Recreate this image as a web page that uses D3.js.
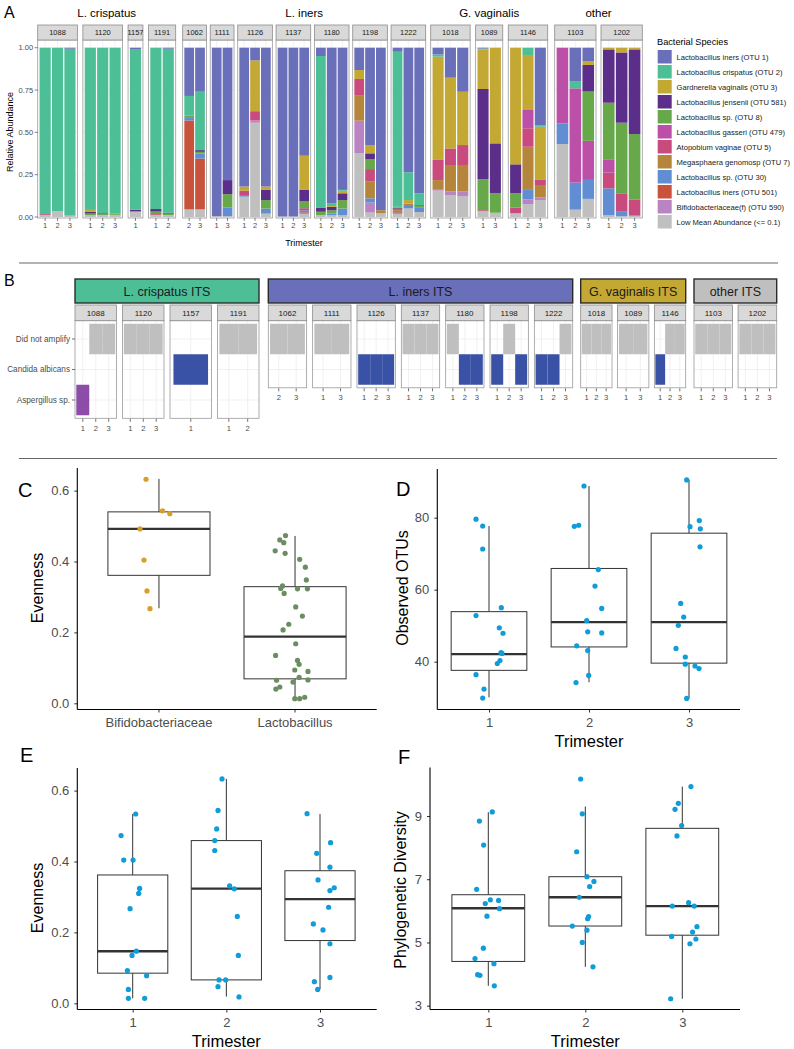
<!DOCTYPE html>
<html><head><meta charset="utf-8">
<script src="https://cdn.jsdelivr.net/npm/d3@7"></script>
<style>
body{margin:0;background:#fff}
svg{display:block}
text{font-family:"Liberation Sans",Arial,Helvetica,sans-serif}
</style>
</head><body>
<svg id="c" width="794" height="1049"></svg>
<script>
// ---------------- DATA ----------------
const speciesNames = ["Lactobacillus iners (OTU 1)","Lactobacillus crispatus (OTU 2)","Gardnerella vaginalis (OTU 3)","Lactobacillus jensenii (OTU 581)","Lactobacillus sp. (OTU 8)","Lactobacillus gasseri (OTU 479)","Atopobium vaginae (OTU 5)","Megasphaera genomosp (OTU 7)","Lactobacillus sp. (OTU 30)","Lactobacillus iners (OTU 501)","Bifidobacteriaceae(f) (OTU 590)","Low Mean Abundance (<= 0.1)"];
const speciesColors = ["#6A6FB9","#4CBF96","#C4A834","#5B2E89","#67A84A","#BC4FA7","#C94B7E","#B4853B","#618ED2","#C8523A","#BA83C3","#BFBFBF"];

const groupNamesA = ["L. crispatus","L. iners","G. vaginalis","other"];
const groupNamesB = ["L. crispatus ITS","L. iners ITS","G. vaginalis ITS","other ITS"];
const groupColorsB = ["#4CBF96","#6A6FB9","#C4A834","#BFBFBF"];
const groupSubjects = [["1088","1120","1157","1191"],["1062","1111","1126","1137","1180","1198","1222"],["1018","1089","1146"],["1103","1202"]];

const sampleIds = ["1088-1","1088-2","1088-3","1120-1","1120-2","1120-3","1157-1","1191-1","1191-2","1062-2","1062-3","1111-1","1111-3","1126-1","1126-2","1126-3","1137-1","1137-2","1137-3","1180-1","1180-2","1180-3","1198-1","1198-2","1198-3","1222-1","1222-2","1222-3","1018-1","1018-2","1018-3","1089-1","1089-3","1146-1","1146-2","1146-3","1103-1","1103-2","1103-3","1202-1","1202-2","1202-3"];

// relative abundance per sample, in legend order of speciesNames
const abundance = [
 [0,.983,0,0,0,0,.005,0,0,0,0,.012],
 [0,.965,0,0,0,0,0,0,0,0,0,.035],
 [.006,.986,0,0,0,0,0,0,0,0,0,.008],
 [0,.958,.01,.012,.01,0,0,0,0,0,0,.01],
 [0,.978,0,.005,.005,0,0,0,0,0,0,.012],
 [0,.977,.006,0,.005,0,0,0,0,0,0,.012],
 [.008,.949,0,.008,.005,0,0,0,0,0,0,.03],
 [0,.953,0,.015,.015,0,.005,0,0,0,0,.012],
 [.006,.969,0,.005,.008,0,0,0,0,0,0,.012],
 [.285,.115,0,0,.01,0,0,0,.02,.525,0,.045],
 [.26,.345,0,.01,.01,0,0,0,.03,.30,0,.045],
 [.995,0,0,0,0,0,0,0,0,0,0,.005],
 [.782,0,0,.083,.078,0,0,0,.052,0,0,.005],
 [.82,0,.025,0,0,0,.025,0,.01,0,0,.12],
 [.075,0,.30,0,0,0,.055,0,0,0,.013,.557],
 [.82,0,.02,.06,.05,0,0,0,.03,0,0,.02],
 [.997,0,0,0,0,0,0,0,0,0,0,.003],
 [.997,0,0,0,0,0,0,0,0,0,0,.003],
 [.638,0,.2,.07,.04,0,.012,0,.012,.008,0,.02],
 [.049,.895,0,.025,.02,0,0,0,0,0,0,.011],
 [.92,.015,.005,.02,.02,0,0,0,.01,0,0,.01],
 [.84,.005,.015,.04,.05,0,0,0,.04,0,0,.01],
 [.132,0,.053,0,0,0,.095,.151,0,0,.193,.376],
 [.575,0,.049,.036,.057,0,.074,.099,.025,0,.059,.026],
 [.96,0,0,0,0,0,0,.018,0,0,0,.022],
 [.024,.916,.008,.008,0,0,0,.008,.008,.008,0,.02],
 [.736,.164,.02,0,0,0,0,.015,.014,0,0,.051],
 [.86,.07,0,.004,.008,0,0,0,.029,0,0,.029],
 [.04,.013,.61,0,0,0,.119,.053,0,0,.009,.156],
 [.177,0,.418,0,0,0,.098,.157,0,0,.02,.13],
 [.26,0,.315,0,0,0,.118,.157,0,0,.026,.124],
 [.005,.005,.234,.532,.184,0,.005,0,0,0,0,.035],
 [0,0,.565,.295,.115,0,0,0,0,0,0,.025],
 [0,0,.689,.171,.085,0,.033,0,0,0,0,.022],
 [0,.043,.325,0,0,.108,.109,.255,.056,0,.029,.075],
 [.46,.007,.311,0,0,0,.033,.073,0,0,.016,.1],
 [0,0,0,0,0,.447,0,0,.122,0,0,.431],
 [.197,.043,0,0,0,.557,0,0,.158,0,.004,.041],
 [.079,0,.023,.157,.291,.231,0,0,.112,0,0,.107],
 [0,0,.01,.315,.334,.079,.093,0,.159,0,0,.01],
 [0,0,.028,.415,.417,0,.109,0,.026,0,0,.005],
 [0,0,.01,.5,.386,0,.094,0,.005,0,0,.005]
];
const yTicksA = [0,0.25,0.5,0.75,1];

// ITS results (panel B)
const itsCategories = ["Did not amplify","Candida albicans","Aspergillus sp."];
const itsColors = ["#BFBFBF","#3A52A5","#8C4CA8"];
const itsResult = ["A","D","D","D","D","D","C","D","D","D","D","D","D","C","C","C","D","D","D","D","C","C","C","D","C","C","C","D","D","D","D","D","D","C","D","D","D","D","D","D","D","D"];

// Panel C
const genusCats = ["Bifidobacteriaceae","Lactobacillus"];
const genusBox = [[.268,.361,.492,.54,.633],[.013,.069,.188,.329,.472]];
const bifidoEven = [.632,.543,.535,.492,.404,.317,.267];
const bifidoJit = [-.095,.026,.08,-.139,-.11,-.088,-.066];
const lactoEven = [.473,.461,.453,.430,.423,.406,.384,.348,.331,.324,.323,.323,.310,.272,.246,.223,.207,.168,.135,.121,.110,.094,.090,.073,.066,.060,.065,.046,.040,.013,.013,.017];
const lactoJit = [-.07,-.112,-.083,-.146,-.073,.034,.076,.083,-.092,-.105,.018,.091,-.08,.005,.054,-.046,-.088,.005,-.143,.018,.03,-.002,.095,.03,.095,-.015,-.136,-.112,-.141,-.002,.034,.071];

// Panel D: observed OTUs by trimester
const trimesters = [1,2,3];
const otuBox = [[30.1,37.6,42.1,53.9,77.7],[34.3,44.1,51.0,65.9,88.8],[29.8,39.6,51.0,75.7,90.5]];
const otuT1 = [79.6,77.7,71.3,55.0,52.8,49.4,47.9,42.5,42.3,40.3,39.5,36.4,32.4,29.9];
const otuT2 = [88.8,77.6,77.9,65.6,61.0,54.8,51.4,48.3,48.0,44.4,43.1,36.2,34.2];
const otuT3 = [90.5,79.2,77.5,76.9,71.9,56.2,52.4,50.1,43.7,41.3,39.3,38.8,38.1,29.8];
const otuJ1 = [-.13,-.063,-.063,.123,-.13,.103,.14,.12,.13,.11,.083,-.13,-.05,-.063];
const otuJ2 = [-.05,-.147,-.103,.093,.06,.127,-.023,-.013,.127,-.123,-.013,-.003,-.13];
const otuJ3 = [-.023,.103,.01,.113,.11,-.083,-.053,-.107,-.13,-.037,-.037,.06,.1,-.023];

// Panel E: evenness by trimester
const evenBox = [[.014,.085,.147,.362,.534],[.019,.066,.3235,.459,.633],[.04,.177,.294,.374,.534]];
const evenT1 = [.534,.473,.404,.404,.324,.310,.267,.147,.135,.092,.078,.039,.014,.014];
const evenT2 = [.633,.544,.492,.459,.431,.331,.323,.245,.135,.066,.066,.047,.018];
const evenT3 = [.535,.453,.423,.384,.348,.326,.318,.271,.224,.207,.168,.061,.073,.039];
const evenJ1 = [.032,-.124,-.096,.004,.074,.064,-.028,.039,-.007,-.057,.149,-.046,-.046,.128];
const evenJ2 = [-.046,-.089,-.103,-.124,-.124,.035,.085,.117,.128,-.078,-.007,-.089,.135];
const evenJ3 = [-.138,.113,-.035,.106,-.021,.152,.106,.092,-.071,.032,.106,-.06,.106,-.025];

// Panel F: phylogenetic diversity by trimester
const pdBox = [[3.63,4.40,6.08,6.51,9.12],[4.23,5.52,6.43,7.08,9.3],[3.22,5.23,6.15,8.61,9.93]];
const pdT1 = [9.13,8.84,8.08,6.68,6.35,6.33,6.23,6.07,5.83,4.82,4.49,4.33,3.98,3.96,3.63];
const pdT2 = [10.17,9.07,7.87,7.08,6.93,6.77,6.43,5.82,5.75,5.52,5.39,5.0,4.23];
const pdT3 = [9.93,9.40,9.21,8.70,8.37,6.26,6.15,6.15,5.50,5.33,5.19,5.11,4.96,3.22];
const pdJ1 = [.041,-.092,-.048,-.12,.021,.106,-.031,.116,-.014,-.051,-.137,.058,-.11,-.086,.062];
const pdJ2 = [-.048,-.031,-.089,.017,.089,.045,-.062,.034,.024,-.134,.017,-.031,.079];
const pdJ3 = [.089,-.041,-.075,-.007,-.055,.065,-.103,.123,.151,.106,-.11,.14,.079,-.12];

// ---------------- DRAWING ----------------
const svg = d3.select("#c");
const FONT = '"Liberation Sans",Arial,Helvetica,sans-serif';
const samples = sampleIds.map((id,i)=>{const [s,t]=id.split("-");return {id,subject:s,tri:t,vals:abundance[i],its:itsResult[i]};});
const levels = {};
samples.forEach(d=>{(levels[d.subject] ||= []).push(d.tri);});

// ===== Panel A =====
const gA = svg.append("g");
gA.append("text").attr("x",4).attr("y",18).attr("font-size",16).text("A");
const A_TOP=40, A_BOT=218;
const yA = d3.scaleLinear().domain([0,1]).range([217,47.7]);
const stack = d3.stack().keys(d3.range(11,-1,-1)).value((d,k)=>d.vals[k]).offset(d3.stackOffsetExpand);
const series = stack(samples);
const segs = [];
series.forEach(s=>s.forEach((p,i)=>{ if(p[1]-p[0]>0) segs.push({k:s.key,y0:p[0],y1:p[1],sample:samples[i]}); }));

const aSpans = [[37.7,175.7,5.5],[182.7,425.7,3.7],[430.7,547.7,5.5],[554.7,642.3,5]];
const defs = svg.append("defs");
let clipId = 0;
const panelX = {};
groupSubjects.forEach((subs,gi)=>{
  const [x0,x1,gap]=aSpans[gi];
  const units = subs.map(s=>levels[s].length+0.2);
  const u = (x1-x0-gap*(subs.length-1))/d3.sum(units);
  let x=x0;
  subs.forEach((s,i)=>{ panelX[s]={x,w:units[i]*u}; x+=units[i]*u+gap; });
  gA.append("text").attr("x",(x0+x1)/2).attr("y",16.5).attr("text-anchor","middle").attr("font-size",11.5).text(groupNamesA[gi]);
});
Object.keys(panelX).forEach(s=>{
  const {x,w}=panelX[s];
  const xb = d3.scaleBand().domain(levels[s]).range([x,x+w]).paddingInner(0.1).paddingOuter(0.15);
  const g = gA.append("g");
  g.append("rect").attr("x",x).attr("y",A_TOP).attr("width",w).attr("height",A_BOT-A_TOP).attr("fill","#fff");
  yTicksA.forEach(t=>g.append("line").attr("x1",x).attr("x2",x+w).attr("y1",yA(t)).attr("y2",yA(t)).attr("stroke","#EBEBEB").attr("stroke-width",0.6));
  levels[s].forEach(l=>g.append("line").attr("x1",xb(l)+xb.bandwidth()/2).attr("x2",xb(l)+xb.bandwidth()/2).attr("y1",A_TOP).attr("y2",A_BOT).attr("stroke","#EBEBEB").attr("stroke-width",0.6));
  g.selectAll("rect.seg").data(segs.filter(d=>d.sample.subject===s)).join("rect").attr("class","seg")
    .attr("x",d=>xb(d.sample.tri)).attr("width",xb.bandwidth())
    .attr("y",d=>yA(d.y1)).attr("height",d=>yA(d.y0)-yA(d.y1)).attr("fill",d=>speciesColors[d.k]);
  g.append("rect").attr("x",x).attr("y",A_TOP).attr("width",w).attr("height",A_BOT-A_TOP).attr("fill","none").attr("stroke","#9A9A9A").attr("stroke-width",0.8);
  // strip
  const cid="cl"+(clipId++);
  defs.append("clipPath").attr("id",cid).append("rect").attr("x",x).attr("y",25).attr("width",w).attr("height",15);
  g.append("rect").attr("x",x).attr("y",25).attr("width",w).attr("height",15).attr("fill","#D9D9D9").attr("stroke","#8C8C8C").attr("stroke-width",0.8);
  g.append("text").attr("clip-path",`url(#${cid})`).attr("x",x+w/2).attr("y",35.3).attr("text-anchor","middle").attr("font-size",7.5).attr("fill","#1A1A1A").text(s);
  // x axis
  levels[s].forEach(l=>{
    const cx=xb(l)+xb.bandwidth()/2;
    g.append("line").attr("x1",cx).attr("x2",cx).attr("y1",A_BOT).attr("y2",A_BOT+3).attr("stroke","#333").attr("stroke-width",0.6);
    g.append("text").attr("x",cx).attr("y",A_BOT+10).attr("text-anchor","middle").attr("font-size",7.5).attr("fill","#4D4D4D").text(l);
  });
});
// y axis A
const ax0 = panelX["1088"].x;
yTicksA.forEach(t=>{
  gA.append("line").attr("x1",ax0-3).attr("x2",ax0).attr("y1",yA(t)).attr("y2",yA(t)).attr("stroke","#333").attr("stroke-width",0.6);
  gA.append("text").attr("x",ax0-4.5).attr("y",yA(t)+2.7).attr("text-anchor","end").attr("font-size",7.5).attr("fill","#4D4D4D").text(d3.format(".2f")(t));
});
gA.append("text").attr("transform",`translate(12.5,132) rotate(-90)`).attr("text-anchor","middle").attr("font-size",9).text("Relative Abundance");
gA.append("text").attr("x",304).attr("y",246).attr("text-anchor","middle").attr("font-size",9).text("Trimester");
// legend
const lg = gA.append("g");
lg.append("text").attr("x",657).attr("y",44.5).attr("font-size",9.2).text("Bacterial Species");
speciesNames.forEach((n,i)=>{
  lg.append("rect").attr("x",657.7).attr("y",50+i*15).attr("width",14).attr("height",13.5).attr("fill",speciesColors[i]);
  lg.append("text").attr("x",676.5).attr("y",50+i*15+9.6).attr("font-size",7.6).attr("fill","#1A1A1A").text(n);
});
// separator lines
svg.append("line").attr("x1",19).attr("x2",778).attr("y1",263).attr("y2",263).attr("stroke","#9A9A9A").attr("stroke-width",1.6);
svg.append("line").attr("x1",19).attr("x2",777).attr("y1",458.5).attr("y2",458.5).attr("stroke","#666").attr("stroke-width",1);

// ===== Panel B =====
const gB = svg.append("g");
gB.append("text").attr("x",4).attr("y",286).attr("font-size",16).text("B");
const bSpans = [[75,259,6],[268.3,572.7,6],[580.7,685.7,5.5],[694,776.7,5.5]];
const B_TOP = 320.7, B_UNIT = 30.5;
groupSubjects.forEach((subs,gi)=>{
  const [x0,x1,gap]=bSpans[gi];
  const pw = (x1-x0-gap*(subs.length-1))/subs.length;
  const cats = gi===0 ? itsCategories : itsCategories.slice(0,2);
  const bottom = B_TOP + (cats.length+0.2)*B_UNIT;
  const yb = d3.scaleBand().domain(cats).range([B_TOP,bottom]).paddingInner(0).paddingOuter(0.1);
  gB.append("rect").attr("x",x0).attr("y",279).attr("width",x1-x0).attr("height",24).attr("fill",groupColorsB[gi]).attr("stroke","#2b2b2b").attr("stroke-width",1.4);
  gB.append("text").attr("x",(x0+x1)/2).attr("y",296).attr("text-anchor","middle").attr("font-size",12.5).attr("fill","#1A1A1A").text(groupNamesB[gi]);
  subs.forEach((s,i)=>{
    const x = x0 + i*(pw+gap);
    const xb = d3.scaleBand().domain(levels[s]).range([x,x+pw]).paddingInner(0).paddingOuter(0.1);
    const g = gB.append("g");
    g.append("rect").attr("x",x).attr("y",B_TOP).attr("width",pw).attr("height",bottom-B_TOP).attr("fill","#fff");
    cats.forEach(c=>g.append("line").attr("x1",x).attr("x2",x+pw).attr("y1",yb(c)+yb.bandwidth()/2).attr("y2",yb(c)+yb.bandwidth()/2).attr("stroke","#EBEBEB").attr("stroke-width",0.7));
    levels[s].forEach(l=>g.append("line").attr("x1",xb(l)+xb.bandwidth()/2).attr("x2",xb(l)+xb.bandwidth()/2).attr("y1",B_TOP).attr("y2",bottom).attr("stroke","#EBEBEB").attr("stroke-width",0.7));
    const data = samples.filter(d=>d.subject===s);
    g.selectAll("rect.t").data(data).join("rect").attr("class","t")
      .attr("x",d=>xb(d.tri)).attr("width",xb.bandwidth())
      .attr("y",d=>yb(itsCategories["DCA".indexOf(d.its)])).attr("height",yb.bandwidth())
      .attr("fill",d=>itsColors["DCA".indexOf(d.its)]);
    g.append("rect").attr("x",x).attr("y",B_TOP).attr("width",pw).attr("height",bottom-B_TOP).attr("fill","none").attr("stroke","#9A9A9A").attr("stroke-width",0.8);
    g.append("rect").attr("x",x).attr("y",305).attr("width",pw).attr("height",15.7).attr("fill","#D9D9D9").attr("stroke","#8C8C8C").attr("stroke-width",0.8);
    g.append("text").attr("x",x+pw/2).attr("y",316).attr("text-anchor","middle").attr("font-size",8).attr("fill","#1A1A1A").text(s);
    levels[s].forEach(l=>{
      const cx=xb(l)+xb.bandwidth()/2;
      g.append("line").attr("x1",cx).attr("x2",cx).attr("y1",bottom+0.5).attr("y2",bottom+3.5).attr("stroke","#333").attr("stroke-width",0.7);
      g.append("text").attr("x",cx).attr("y",bottom+12.5).attr("text-anchor","middle").attr("font-size",7.6).attr("fill","#4D4D4D").text(l);
    });
    if(gi===0 && i===0){
      cats.forEach(c=>{
        const cy=yb(c)+yb.bandwidth()/2;
        gB.append("line").attr("x1",x-3).attr("x2",x).attr("y1",cy).attr("y2",cy).attr("stroke","#333").attr("stroke-width",0.7);
        gB.append("text").attr("x",x-5).attr("y",cy+2.9).attr("text-anchor","end").attr("font-size",8.2).attr("fill","#4D4D4D").text(c);
      });
    }
  });
});

// ===== Box panels =====
function boxPanel(p){
  const g = svg.append("g");
  g.append("text").attr("x",p.lx).attr("y",p.ly).attr("font-size",20).text(p.label);
  // axes
  const ya = g.append("g").attr("transform",`translate(${p.ax0},0)`).call(d3.axisLeft(p.y).tickValues(p.yTicks).tickFormat(p.fmt).tickSize(3).tickPadding(5));
  const xa = g.append("g").attr("transform",`translate(0,${p.ay1})`).call(d3.axisBottom(p.x).tickValues(p.xTicks).tickFormat(p.xfmt).tickSize(3).tickPadding(5));
  [ya,xa].forEach(a=>{a.select(".domain").remove();a.selectAll("line").attr("stroke","#333");a.selectAll("text").attr("fill","#4D4D4D").attr("font-size",13).attr("font-family",FONT);});
  g.append("line").attr("x1",p.ax0).attr("x2",p.ax0).attr("y1",p.ay0).attr("y2",p.ay1).attr("stroke","#000").attr("stroke-width",1.1);
  g.append("line").attr("x1",p.ax0).attr("x2",p.ax1).attr("y1",p.ay1).attr("y2",p.ay1).attr("stroke","#000").attr("stroke-width",1.1);
  // boxes
  p.stats.forEach((s,i)=>{
    const cx=p.cx(i), w=p.bw;
    g.append("line").attr("x1",cx).attr("x2",cx).attr("y1",p.y(s[0])).attr("y2",p.y(s[1])).attr("stroke","#333").attr("stroke-width",1);
    g.append("line").attr("x1",cx).attr("x2",cx).attr("y1",p.y(s[3])).attr("y2",p.y(s[4])).attr("stroke","#333").attr("stroke-width",1);
    g.append("rect").attr("x",cx-w/2).attr("y",p.y(s[3])).attr("width",w).attr("height",p.y(s[1])-p.y(s[3])).attr("fill","#fff").attr("stroke","#333").attr("stroke-width",1);
    g.append("line").attr("x1",cx-w/2).attr("x2",cx+w/2).attr("y1",p.y(s[2])).attr("y2",p.y(s[2])).attr("stroke","#333").attr("stroke-width",2.4);
  });
  p.vals.forEach((vs,i)=>{
    g.selectAll(null).data(vs.map((v,j)=>({v,j:p.jit[i][j]}))).join("circle")
      .attr("cx",d=>p.cx(i)+d.j*p.step).attr("cy",d=>p.y(d.v)).attr("r",2.6).attr("fill",p.colors[i]);
  });
  g.append("text").attr("transform",`translate(${p.ytx},${p.yty}) rotate(-90)`).attr("text-anchor","middle").attr("font-size",16).text(p.ytitle);
  if(p.xtitle) g.append("text").attr("x",(p.cx(0)+p.cx(2))/2).attr("y",p.xty).attr("text-anchor","middle").attr("font-size",16.5).text(p.xtitle);
}

// C
const xC = d3.scaleBand().domain(genusCats).range([77.3,376.7]).paddingInner(0).paddingOuter(0.1);
boxPanel({label:"C",lx:18,ly:496.5,x:xC,y:d3.scaleLinear().domain([0,0.6]).range([703.3,490.6]),
  ax0:77.3,ax1:376.7,ay0:468,ay1:709.5,yTicks:[0,0.2,0.4,0.6],fmt:d3.format(".1f"),xTicks:genusCats,xfmt:d=>d,
  stats:genusBox,cx:i=>xC(genusCats[i])+xC.bandwidth()/2,bw:xC.bandwidth()*0.75,step:xC.bandwidth(),
  vals:[bifidoEven,lactoEven],jit:[bifidoJit,lactoJit],colors:["#D79E2B","#6A8E61"],
  ytitle:"Evenness",ytx:42.5,yty:588});
// D
const xD = d3.scaleLinear().domain([1,3]).range([489,689]);
boxPanel({label:"D",lx:396,ly:496,x:xD,y:d3.scaleLinear().domain([40,80]).range([661.7,517.7]),
  ax0:437.3,ax1:740,ay0:469,ay1:709.5,yTicks:[40,60,80],fmt:d3.format("d"),xTicks:trimesters,xfmt:d3.format("d"),
  stats:otuBox,cx:i=>xD(trimesters[i]),bw:75.7,step:100,
  vals:[otuT1,otuT2,otuT3],jit:[otuJ1,otuJ2,otuJ3],colors:["#0F9CD8","#0F9CD8","#0F9CD8"],
  ytitle:"Observed OTUs",ytx:407.5,yty:588,xtitle:"Trimester",xty:747});
// E
const xE = d3.scaleLinear().domain([1,3]).range([132.7,320]);
boxPanel({label:"E",lx:20,ly:762,x:xE,y:d3.scaleLinear().domain([0,0.6]).range([1003.3,790.6]),
  ax0:77.3,ax1:376.7,ay0:768,ay1:1009.5,yTicks:[0,0.2,0.4,0.6],fmt:d3.format(".1f"),xTicks:trimesters,xfmt:d3.format("d"),
  stats:evenBox,cx:i=>xE(trimesters[i]),bw:70.2,step:93.65,
  vals:[evenT1,evenT2,evenT3],jit:[evenJ1,evenJ2,evenJ3],colors:["#0F9CD8","#0F9CD8","#0F9CD8"],
  ytitle:"Evenness",ytx:42.5,yty:898,xtitle:"Trimester",xty:1046.5});
// F
const xF = d3.scaleLinear().domain([1,3]).range([488.3,682.3]);
boxPanel({label:"F",lx:398,ly:764,x:xF,y:d3.scaleLinear().domain([3,9]).range([1005.7,816]),
  ax0:430,ax1:740,ay0:767.5,ay1:1009.5,yTicks:[3,5,7,9],fmt:d3.format("d"),xTicks:trimesters,xfmt:d3.format("d"),
  stats:pdBox,cx:i=>xF(trimesters[i]),bw:72.8,step:97,
  vals:[pdT1,pdT2,pdT3],jit:[pdJ1,pdJ2,pdJ3],colors:["#0F9CD8","#0F9CD8","#0F9CD8"],
  ytitle:"Phylogenetic Diversity",ytx:406,yty:890,xtitle:"Trimester",xty:1046.5});
</script>
</body></html>
